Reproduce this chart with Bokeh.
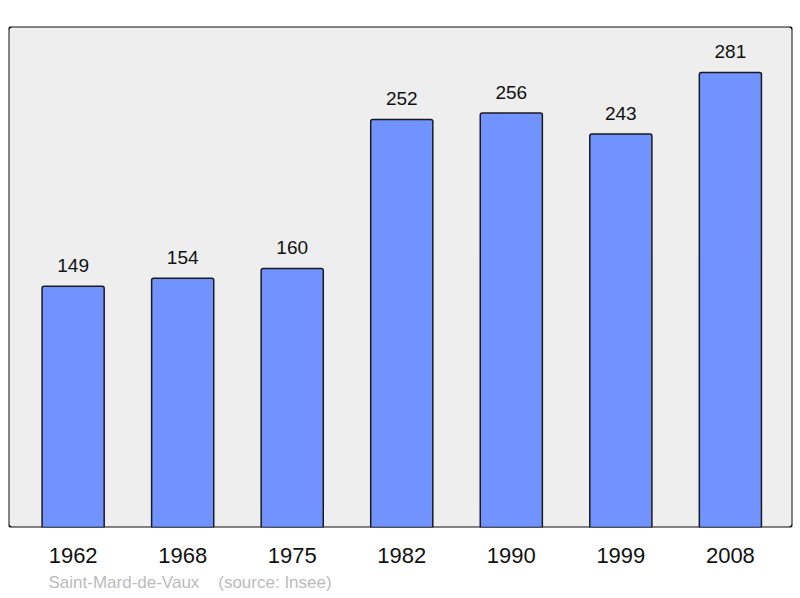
from bokeh.plotting import figure
from bokeh.models import ColumnDataSource, FixedTicker, LabelSet, BoxAnnotation, Title, Range1d
from bokeh.core.properties import value
from bokeh.embed import file_html
from bokeh.resources import INLINE

years = ["1962", "1968", "1975", "1982", "1990", "1999", "2008"]
population = [149, 154, 160, 252, 256, 243, 281]
commune = "Saint-Mard-de-Vaux"
source_note = "(source: Insee)"

idx = list(range(len(years)))
src = ColumnDataSource(dict(x=idx, top=population, lab=[str(v) for v in population]))

p = figure(width=798, height=596, output_backend="svg", toolbar_location=None,
           x_range=Range1d(-0.59, 6.567), y_range=Range1d(0, 309.4),
           min_border_left=8, min_border_right=6, min_border_top=26, min_border_bottom=69)
p.background_fill_color = None
p.border_fill_color = "white"
p.outline_line_color = None
p.grid.visible = False
p.yaxis.visible = False

frame = BoxAnnotation(left=-0.59, right=6.567, bottom=0, top=309.4,
                      fill_color="#eeeeee", fill_alpha=1, line_color="#111111",
                      line_width=2, line_alpha=1, border_radius=4, level="underlay")
p.add_layout(frame)

p.vbar(x="x", top="top", width=0.567, bottom=0, source=src,
       fill_color="#7093ff", line_color="#1a1a1a", line_width=1.5, border_radius=[2, 2, 0, 0])

labels = LabelSet(x="x", y="top", text="lab", source=src, y_offset=14,
                  text_align="center", text_baseline="alphabetic",
                  text_font=value("Liberation Sans"), text_font_size=value("19px"),
                  text_color=value("#111111"))
p.add_layout(labels)

ax = p.xaxis[0]
ax.ticker = FixedTicker(ticks=idx)
ax.major_label_overrides = {i: y for i, y in enumerate(years)}
ax.axis_line_color = None
ax.major_tick_line_color = None
ax.minor_tick_line_color = None
ax.major_label_standoff = 14
ax.major_label_text_font = "Liberation Sans"
ax.major_label_text_font_size = "22px"
ax.major_label_text_color = "#111111"

foot = Title(text=commune + "\u00a0\u00a0\u00a0\u00a0" + source_note, text_font="Liberation Sans",
             text_font_size="17px", text_color="#bbbbbb", text_font_style="normal",
             align="left", offset=40, standoff=10)
p.add_layout(foot, "below")

open("out.html", "w").write(file_html(p, INLINE))
